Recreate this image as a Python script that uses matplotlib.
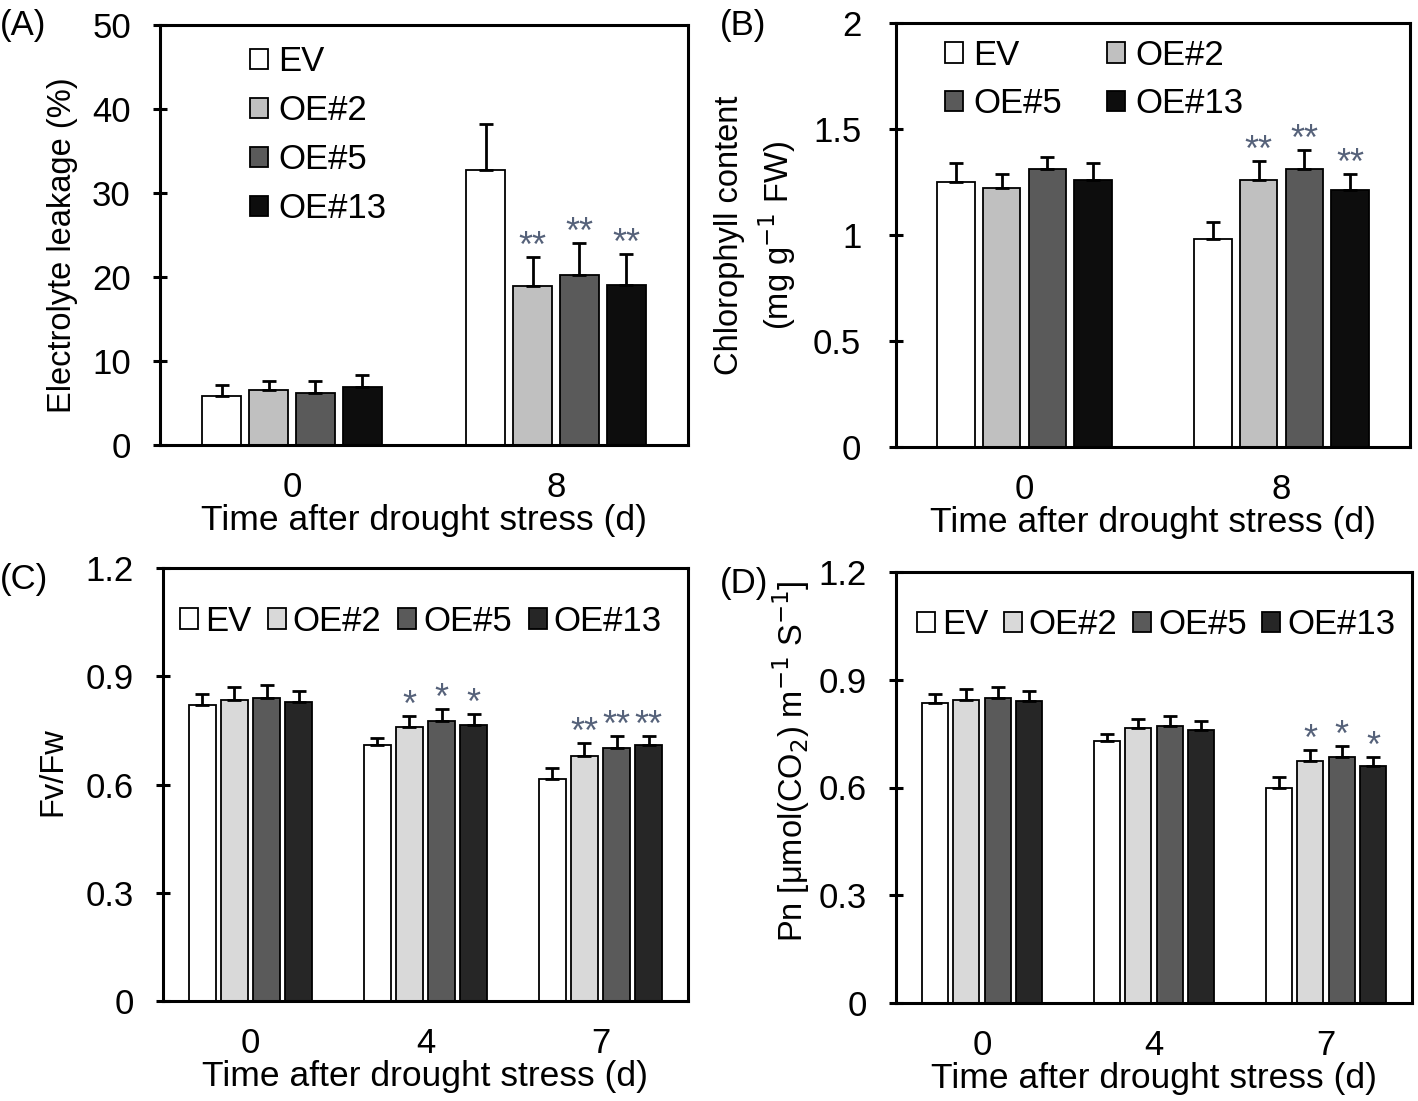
import numpy as np
import matplotlib
matplotlib.use("Agg")
import matplotlib.pyplot as plt

plt.rcParams['font.family'] = ['Liberation Sans', 'DejaVu Sans']

genotypes = ['EV', 'OE#2', 'OE#5', 'OE#13']
colors_ab = ['#ffffff', '#c0c0c0', '#5a5a5a', '#0d0d0d']
colors_cd = ['#ffffff', '#d9d9d9', '#5a5a5a', '#262626']
star_color = '#56627a'

# (A) electrolyte leakage
days_a = ['0', '8']
leak_mean = [[5.8, 32.7], [6.5, 18.9], [6.2, 20.2], [6.9, 19.1]]
leak_err = [[1.3, 5.5], [1.1, 3.5], [1.4, 3.8], [1.4, 3.6]]
leak_sig = [['', ''], ['', '**'], ['', '**'], ['', '**']]

# (B) chlorophyll content
days_b = ['0', '8']
chl_mean = [[1.25, 0.98], [1.22, 1.26], [1.31, 1.31], [1.26, 1.21]]
chl_err = [[0.09, 0.08], [0.07, 0.09], [0.06, 0.09], [0.08, 0.08]]
chl_sig = [['', ''], ['', '**'], ['', '**'], ['', '**']]

# (C) Fv/Fm
days_c = ['0', '4', '7']
fv_mean = [[0.82, 0.71, 0.615], [0.835, 0.76, 0.68], [0.84, 0.775, 0.70], [0.83, 0.765, 0.71]]
fv_err = [[0.03, 0.02, 0.03], [0.035, 0.03, 0.035], [0.035, 0.035, 0.035], [0.03, 0.03, 0.025]]
fv_sig = [['', '', ''], ['', '*', '**'], ['', '*', '**'], ['', '*', '**']]

# (D) Pn
days_d = ['0', '4', '7']
pn_mean = [[0.835, 0.73, 0.60], [0.845, 0.765, 0.675], [0.85, 0.77, 0.685], [0.84, 0.76, 0.66]]
pn_err = [[0.025, 0.02, 0.03], [0.03, 0.025, 0.03], [0.03, 0.03, 0.03], [0.03, 0.025, 0.025]]
pn_sig = [['', '', ''], ['', '', '*'], ['', '', '*'], ['', '', '*']]

W, H = 1418, 1101
fig = plt.figure(figsize=(W / 100, H / 100), dpi=100)

FS = 25


def px_axes(left, top, right, bottom):
    return fig.add_axes([left / W, 1 - bottom / H, (right - left) / W, (bottom - top) / H])


def panel(ax, days, means, errs, sigs, colors, ylim, yticks, yticklabels, ylabel,
          width, step):
    x = np.arange(len(days))
    for i, g in enumerate(genotypes):
        pos = x + (i - 1.5) * step
        m = np.array(means[i])
        e = np.array(errs[i])
        ax.bar(pos, m, width, color=colors[i], edgecolor='black', linewidth=1.3,
               label=g, zorder=2)
        ax.errorbar(pos, m, yerr=[np.zeros_like(e), e], fmt='none', ecolor='black',
                    elinewidth=2, capsize=5, capthick=2, zorder=3)
        for j in range(len(days)):
            if sigs[i][j]:
                ax.text(pos[j], m[j] + e[j], sigs[i][j], ha='center', va='baseline',
                        fontsize=26, color=star_color, zorder=4)
    ax.set_xlim(-0.5, len(days) - 0.5)
    ax.set_ylim(*ylim)
    ax.set_yticks(yticks)
    ax.set_yticklabels(yticklabels)
    ax.set_xticks(x)
    ax.set_xticklabels(days)
    ax.tick_params(axis='x', length=0, pad=19, labelsize=FS)
    ax.tick_params(axis='y', direction='inout', length=10, width=2.2, labelsize=FS, pad=16)
    for s in ax.spines.values():
        s.set_linewidth(2.2)
    ax.set_xlabel('Time after drought stress (d)', fontsize=25.5, labelpad=0)
    ax.set_ylabel(ylabel, fontsize=23.5, linespacing=1.35)


leg_kw = dict(frameon=False, fontsize=FS, handlelength=0.52, handleheight=0.52,
              borderaxespad=0, borderpad=0)

axA = px_axes(160, 25, 688, 445)
panel(axA, days_a, leak_mean, leak_err, leak_sig, colors_ab, (0, 50),
      [0, 10, 20, 30, 40, 50], ['0', '10', '20', '30', '40', '50'],
      'Electrolyte leakage (%)', 0.145, 0.178)
axA.legend(loc='upper left', bbox_to_anchor=(0.17, 0.952), handletextpad=0.3,
           labelspacing=0.46, **leg_kw)
axA.yaxis.set_label_coords(-0.155, 0.475)

axB = px_axes(896, 23, 1410, 447)
panel(axB, days_b, chl_mean, chl_err, chl_sig, colors_ab, (0, 2),
      [0, 0.5, 1, 1.5, 2], ['0', '0.5', '1', '1.5', '2'],
      'Chlorophyll content\n(mg g$^{-1}$ FW)', 0.145, 0.178)
axB.tick_params(axis='y', pad=20)
hb, lb = axB.get_legend_handles_labels()
order = [0, 2, 1, 3]
axB.legend([hb[k] for k in order], [lb[k] for k in order], loc='upper left',
           bbox_to_anchor=(0.095, 0.963), ncol=2, columnspacing=1.3,
           handletextpad=0.3, labelspacing=0.45, **leg_kw)
axB.yaxis.set_label_coords(-0.19, 0.5)

axC = px_axes(163, 568, 688, 1001)
panel(axC, days_c, fv_mean, fv_err, fv_sig, colors_cd, (0, 1.2),
      [0, 0.3, 0.6, 0.9, 1.2], ['0', '0.3', '0.6', '0.9', '1.2'],
      'Fv/Fw', 0.15, 0.183)
axC.legend(loc='upper left', bbox_to_anchor=(0.032, 0.915), ncol=4, columnspacing=0.48,
           handletextpad=0.2, **leg_kw)
axC.yaxis.set_label_coords(-0.181, 0.53)

axD = px_axes(896, 572, 1412, 1003)
panel(axD, days_d, pn_mean, pn_err, pn_sig, colors_cd, (0, 1.2),
      [0, 0.3, 0.6, 0.9, 1.2], ['0', '0.3', '0.6', '0.9', '1.2'],
      'Pn [μmol(CO$_2$) m$^{-1}$ S$^{-1}$]', 0.15, 0.183)
axD.legend(loc='upper left', bbox_to_anchor=(0.04, 0.916), ncol=4, columnspacing=0.45,
           handletextpad=0.2, **leg_kw)
axD.yaxis.set_label_coords(-0.163, 0.56)

for lbl, (xp, yp) in zip(['(A)', '(B)', '(C)', '(D)'],
                         [(0, 25), (720, 25), (0, 580), (720, 584)]):
    fig.text(xp / W, 1 - yp / H, lbl, fontsize=25, ha='left', va='center')

fig.savefig('out.png', dpi=100)
